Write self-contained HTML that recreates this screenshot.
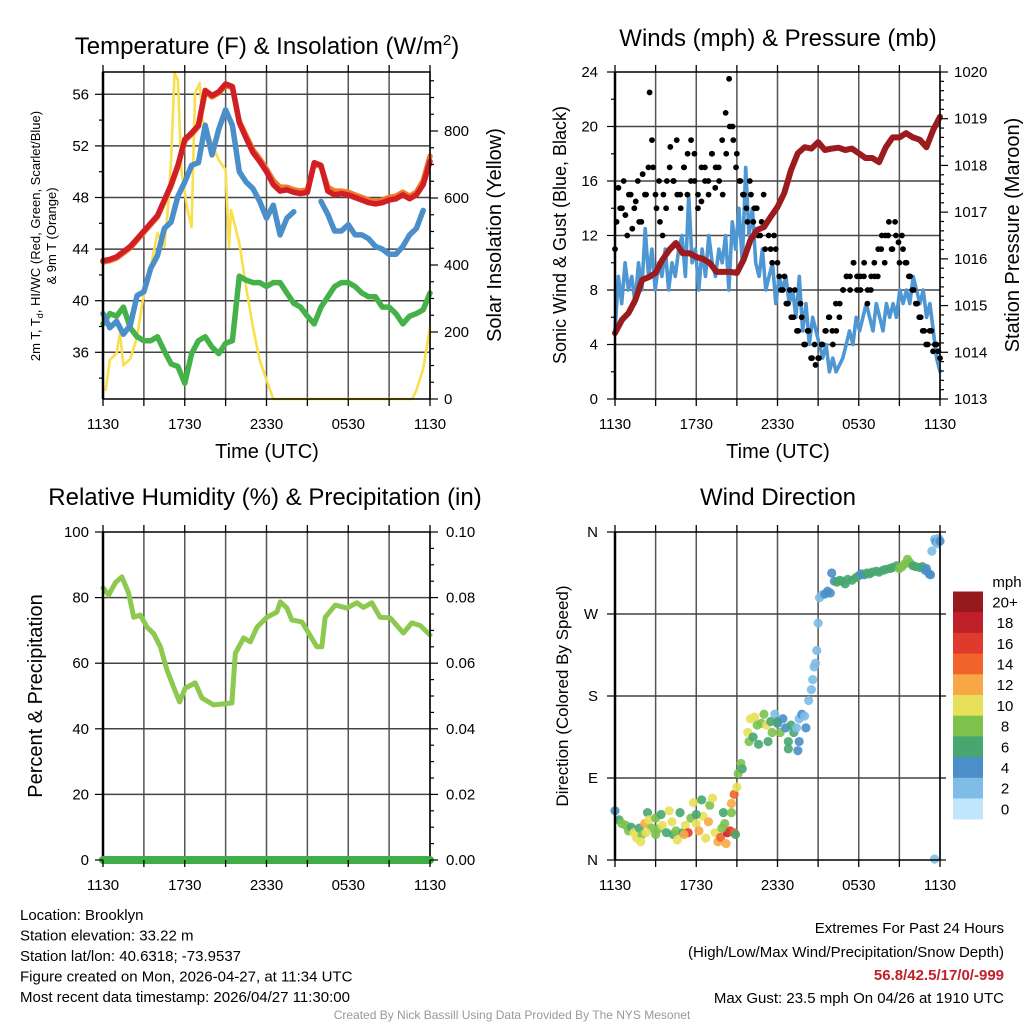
<!DOCTYPE html>
<html><head><meta charset="utf-8"><style>
html,body{margin:0;padding:0;background:#fff;}
svg{display:block;font-family:"Liberation Sans",Arial,sans-serif;}
</style></head><body>
<svg id="c" width="1024" height="1024" viewBox="0 0 1024 1024" xmlns="http://www.w3.org/2000/svg"></svg>
<script>
// ---------- DATA ----------
const xTickLabels = ["1130","1730","2330","0530","1130"];
const tempRed = [43.1,43.2,43.4,43.8,44.2,44.8,45.4,46.0,46.6,47.8,49.0,50.5,52.5,53.0,53.6,56.3,55.9,56.2,56.8,56.6,53.8,52.6,51.5,50.8,50.0,49.0,48.5,48.6,48.4,48.3,48.4,50.7,50.5,48.5,48.2,48.3,48.2,48.0,47.8,47.6,47.5,47.6,47.8,47.9,48.2,47.9,48.2,49.0,50.8];
const tempOrange = [43.0,43.1,43.3,43.7,44.1,44.7,45.3,45.9,46.5,47.7,48.9,50.4,52.4,52.9,53.5,56.2,55.8,56.1,56.7,56.5,53.9,52.8,51.7,51.0,50.2,49.3,48.8,48.8,48.6,48.5,48.6,50.6,50.4,48.8,48.5,48.5,48.4,48.2,48.0,47.8,47.7,47.8,48.0,48.1,48.4,48.1,48.4,49.3,51.2];
const windChill = [39.0,37.9,38.4,37.4,38.1,40.4,40.7,42.5,43.5,45.6,46.1,48.1,49.2,50.5,50.7,53.6,51.3,53.3,54.8,53.6,50.0,49.2,48.7,47.7,46.4,47.4,45.1,46.4,46.9,null,null,null,47.7,46.7,45.4,45.4,45.9,45.1,45.1,44.8,44.2,44.0,43.6,43.6,44.2,45.1,45.6,47.0,null];
const dewPoint = [38.2,39.0,38.8,39.5,37.9,37.2,36.9,36.9,37.2,36.1,35.1,34.9,33.6,35.9,36.9,37.2,36.4,35.9,36.7,36.9,41.9,41.6,41.4,41.4,41.1,41.4,41.4,40.6,39.8,39.5,38.8,38.2,39.5,40.3,41.1,41.4,41.4,41.1,40.6,40.3,40.3,39.5,39.5,39.0,38.2,38.8,39.0,39.3,40.6];
const solarT = [0.2,0.5,1,1.25,1.5,2,2.5,3,3.5,4,4.5,4.75,5,5.25,5.5,5.75,6.2,6.5,6.75,7.1,7.3,8,8.5,9,9.25,9.4,10,10.5,11,11.5,12,12.5,22.7,23,23.5,24];
const solarV = [27,116,137,197,100,120,185,316,394,496,454,560,713,973,952,684,564,513,913,943,833,764,713,684,454,564,466,334,215,116,57,0,0,27,90,215];
const windSpeed = [5,9,7,10,8,9,7,10,8,12.5,9,11,8,10,9,11,8,10,9,11,12,9,15,10,11,8,11,9,12,10,9,11,10,12,8,13,11,14,10,17,12,14,10,9,11,8,9,10,7,9,8,9,7,8,6,9,5,7,4,6,5,4,3,4,2,3,2,2.5,3,4,5,4,6,5,6,7,6,5,7,6,5,7,6,7,6,8,7,8,7,9,8,7,8,6,7,5,3,2];
const windGust = [11,15.5,14,13.5,15,12.5,14.5,13,16.5,15,22.5,17,14,13,15,16,18.5,16,15,14,17,18,19,16,15,14.5,17,16,18,15.5,17,19,21,23.5,20,17,16,15,14,16,13,14,12,15,13,11,12,10,8,9,7,6,8,5,6,4,5,3,2.5,3,4,5,6,4,5,7,8,9,8,10,9,8,9,7,8,10,9,11,10,12,11,13,11.5,12,10,9,8,7,6,5,4,5,3.5,4,3];
const windGust2 = [13,14,16,12,15,14,16,13,15,17,19,15,16,12,14,17,16,19,15,17,15,16,18,14,17,16,15,18,17,16,15,18,20,19,18,16,15,13,15,14,12,13,11,12,10,11,9,8,7,8,6,5,7,4,5,3,4,3,4,5,6,5,7,6,8,9,9,10,8,9,10,8,9,9,11,12,12,13,11,12,10,11,10,9,8,7,6,5,4,5,4,3.5];
const pressure = [1014.41,1014.69,1014.84,1015.12,1015.55,1015.61,1015.7,1015.98,1016.19,1016.34,1016.12,1016.12,1016.04,1016.0,1015.91,1015.72,1015.72,1015.72,1015.7,1015.98,1016.4,1016.62,1016.68,1016.9,1017.11,1017.41,1017.9,1018.26,1018.39,1018.36,1018.5,1018.33,1018.36,1018.38,1018.33,1018.36,1018.26,1018.16,1018.16,1018.07,1018.39,1018.6,1018.6,1018.69,1018.6,1018.55,1018.39,1018.76,1019.04];
const rhT = [0,0.42,0.9,1.39,1.88,2.25,2.74,3.23,3.72,4.21,4.69,5.18,5.62,6.04,6.77,7.26,8.12,8.85,9.46,9.71,10.32,10.81,11.3,12.03,12.76,13.01,13.5,13.86,14.6,15.09,15.7,16.06,16.31,17.04,17.9,18.63,19.12,19.73,20.34,21.08,22.05,22.66,23.28,24];
const rhV = [83,80.8,84.5,86.3,81.4,74,74.7,71,69,65,58,52.7,48.2,52.4,54,49.4,47.3,47.6,47.9,63,67.7,66.5,71,74,75.6,78.7,76.8,73.2,72.6,69.2,65,65,74,77.7,76.8,78.4,77,78.4,74,73.8,69.2,72.3,71.5,68.6];
const precipT = [0,24];
const precipV = [0,0];
const dirT = [0,0.3,0.5,0.8,1,1.2,1.4,1.6,1.8,2,2.2,2.4,2.5,2.7,3,3.2,3.4,3.5,3.8,4,4.2,4.3,4.5,4.6,4.8,5,5.2,5.4,5.6,5.8,6,6.2,6.4,6.5,6.7,6.9,7,7.2,7.4,7.6,7.8,8,8.1,8.3,8.5,8.6,8.8,8.6,8.9,8.2,7.9,3.0,1.9,2.3,5.1,6.0,
 8.8,9.0,9.1,9.3,9.4,
 9.8,9.9,10,10.2,10.3,10.5,10.6,10.8,11,11.2,11.3,11.5,11.6,11.8,12,12,12.2,12.4,12.6,12.8,12.8,13,13.2,13.4,13.5,13.6,13.6,13.8,14,14.1,
 14.3,14.5,14.6,14.7,14.8,14.9,15.0,15.1,
 15.3,15.5,15.7,15.9,16.0,16.2,16.4,16.6,16.8,17.0,17.2,17.5,17.8,18.0,18.2,18.4,18.6,18.8,19.0,19.3,19.5,19.8,20.0,20.3,20.5,20.8,21.0,21.2,21.4,21.6,21.8,22.0,22.2,22.5,22.7,22.9,23.0,23.2,23.3,
 23.4,23.6,23.7,23.8,23.9,24,23.6];
const dirV = [54,44,40,38,32,36,30,24,35,28,40,52,44,35,46,34,50,38,30,54,42,28,32,22,52,30,38,30,46,63,40,32,66,48,24,42,60,68,30,20,25,52,40,30,32,52,30,62,28,18,35,28,20,30,28,50,
 72,80,95,106,100,
 140,130,155,135,157,148,127,150,160,148,130,152,140,160,150,152,140,155,145,122,130,148,140,145,120,130,155,160,158,145,
 175,187,198,212,216,230,260,288,
 291,292,295,293,315,306,305,307,306,303,308,307,310,312,314,313,315,314,316,317,316,318,319,320,321,323,320,322,325,330,326,323,322,321,322,318,320,314,313,
 339,352,349,347,353,350,1];
const dirS = [4,7,8,9,8,7,10,10,6,9,12,7,10,9,8,9,7,10,6,10,10,7,9,10,7,6,11,17,9,10,10,13,7,10,10,12,8,11,10,13,14,7,8,18,16,8,14,12,7,13,9,8,10,10,12,7,
 14,11,8,9,7,
 10,8,11,7,10,8,6,9,8,10,6,7,8,3,4,6,8,4,4,6,7,6,6,3,4,4,2,4,2,4,
 2,2,2,2,3,2,2,3,
 3,4,4,4,4,5,6,6,6,6,6,6,6,6,4,5,6,6,6,6,6,6,6,6,6,6,8,8,8,8,8,7,6,6,6,4,4,4,4,
 2,2,4,2,2,4,2];
const speedBins = ["0","2","4","6","8","10","12","14","16","18","20+"];
const binColors = ["#bfe6fa","#7dbde8","#4a8fc9","#48a76f","#7cc24c","#e8e05a","#f7a845","#f0642a","#e03a2c","#c0202a","#961a1d"];

// ---------- HELPERS ----------
const svg = document.getElementById('c');
const NS = 'http://www.w3.org/2000/svg';
function mk(tag, attrs, parent){
  const e = document.createElementNS(NS, tag);
  for (const k in attrs) e.setAttribute(k, attrs[k]);
  (parent||svg).appendChild(e);
  return e;
}
function txt(str, x, y, size, anchor, parent, extra){
  const t = mk('text', Object.assign({x:x, y:y, 'font-size':size, 'text-anchor':anchor||'middle', fill:'#000'}, extra||{}), parent);
  t.textContent = str;
  return t;
}
function scale(d0,d1,r0,r1){ return v => r0 + (v-d0)/(d1-d0)*(r1-r0); }

function xAxis(g, X0, X1, Y0, Y1, sx, labelY, name){
  for (let h=0; h<=24; h+=3){
    const x = sx(h);
    mk('line',{x1:x,y1:Y1,x2:x,y2:Y1+7,stroke:'#000','stroke-width':1.3},g);
    mk('line',{x1:x,y1:Y0,x2:x,y2:Y0-7,stroke:'#000','stroke-width':1.3},g);
  }
  xTickLabels.forEach((l,i)=>{
    const t = txt(l, sx(i*6), labelY, 15, 'middle', g);
    
    
  });
}

function poly(g, xs, ys, sx, sy, attrs){
  let d=''; let pen=false;
  for (let i=0;i<ys.length;i++){
    if (ys[i]===null){ pen=false; continue; }
    d += (pen?'L':'M') + sx(xs[i]).toFixed(1) + ' ' + sy(ys[i]).toFixed(1) + ' ';
    pen=true;
  }
  return mk('path', Object.assign({d:d, fill:'none','stroke-linejoin':'round','stroke-linecap':'round'}, attrs), g);
}
function evenT(n){ const a=[]; for(let i=0;i<n;i++) a.push(i*24/(n-1)); return a; }

// ================= PANEL 1: TEMPERATURE =================
{
  const g = mk('g',{});
  
  
  const X0=103,X1=430,Y0=72,Y1=399;
  const sx = scale(0,24,X0,X1);
  const sy = scale(56,36,94.3,352.3);
  const sS = scale(0,800,399,131);
  for(let h=0;h<=24;h+=3) mk('line',{x1:sx(h),y1:Y0,x2:sx(h),y2:Y1,stroke:'#555','stroke-width':1.5},g);
  for(let v=36;v<=56;v+=4) mk('line',{x1:X0,y1:sy(v),x2:X1,y2:sy(v),stroke:'#444','stroke-width':1.5},g);
  const tt = evenT(tempRed.length);
  const s1 = poly(g, solarT, solarV, sx, sS, {stroke:'#f9df4c','stroke-width':2.6});
   
  const s2 = poly(g, tt, dewPoint, sx, sy, {stroke:'#45b149','stroke-width':5.5});
   
  const s3 = poly(g, tt, windChill, sx, sy, {stroke:'#4a8fc9','stroke-width':5.5});
   
  const s4 = poly(g, tt, tempOrange, sx, sy, {stroke:'#f07a2a','stroke-width':5.5});
   
  const s5 = poly(g, tt, tempRed, sx, sy, {stroke:'#d21f26','stroke-width':5.5});
   
  mk('rect',{x:X0,y:Y0,width:X1-X0,height:Y1-Y0,fill:'none',stroke:'#000','stroke-width':1.5},g);
  mk('line',{x1:X0,y1:Y0,x2:X0,y2:Y1,stroke:'#000','stroke-width':2.5},g);
  for(let v=34;v<=57;v+=2){ const L=(v%4===0)?8:4; mk('line',{x1:X0,y1:sy(v),x2:X0-L,y2:sy(v),stroke:'#000','stroke-width':1.2},g); }
  for(let v=36;v<=56;v+=4){ const t=txt(String(v),89,sy(v)+5,15,'end',g);   }
  for(let v=0;v<=950;v+=50){ const L=(v%200===0)?8:4; mk('line',{x1:X1,y1:sS(v),x2:X1+L,y2:sS(v),stroke:'#000','stroke-width':1.2},g); }
  for(let v=0;v<=800;v+=200){ const t=txt(String(v),444,sS(v)+5,15,'start',g);   }
  xAxis(g,X0,X1,Y0,Y1,sx,429,'temp');
  const ti = txt('',267,54,24,'middle',g);
  ti.innerHTML = 'Temperature (F) &amp; Insolation (W/m<tspan dy="-9" font-size="15">2</tspan><tspan dy="9">)</tspan>';
   
  const xl = txt('Time (UTC)',267,458,20,'middle',g);  
  const yl1 = txt('',40,236,13,'middle',g,{transform:'rotate(-90 40 236)'});
  yl1.innerHTML = '2m T, T<tspan dy="3" font-size="9">d</tspan><tspan dy="-3">, HI/WC (Red, Green, Scarlet/Blue)</tspan>';
   
  const yl2 = txt('& 9m T (Orange)',56,236,13,'middle',g,{transform:'rotate(-90 56 236)'});
   
  const yr = txt('Solar Insolation (Yellow)',501,235,20,'middle',g,{transform:'rotate(-90 501 235)'});
   
}

// ================= PANEL 2: WINDS =================
{
  const g = mk('g',{});
  
  
  const X0=615,X1=940,Y0=72,Y1=399;
  const sx = scale(0,24,X0,X1);
  const sy = scale(0,24,Y1,Y0);
  const sp = scale(1013,1020,Y1,Y0);
  for(let h=0;h<=24;h+=3) mk('line',{x1:sx(h),y1:Y0,x2:sx(h),y2:Y1,stroke:'#555','stroke-width':1.5},g);
  for(let v=4;v<=20;v+=4) mk('line',{x1:X0,y1:sy(v),x2:X1,y2:sy(v),stroke:'#444','stroke-width':1.5},g);
  const w = poly(g, evenT(windSpeed.length), windSpeed, sx, sy, {stroke:'#4e97d2','stroke-width':3.6});
   
  const gt = evenT(windGust.length);
  windGust.forEach((v,i)=>{
    const c = mk('circle',{cx:sx(gt[i]),cy:sy(v),r:2.9,fill:'#000'},g);
    
    
  });
  const gt2 = evenT(windGust2.length);
  windGust2.forEach((v,i)=>{
    const c = mk('circle',{cx:sx(0.12+gt2[i]*23.76/24),cy:sy(v),r:2.9,fill:'#000'},g);
    
    
  });
  const p = poly(g, evenT(pressure.length), pressure, sx, sp, {stroke:'#9b1b1e','stroke-width':6});
   
  mk('rect',{x:X0,y:Y0,width:X1-X0,height:Y1-Y0,fill:'none',stroke:'#000','stroke-width':1.5},g);
  mk('line',{x1:X0,y1:Y0,x2:X0,y2:Y1,stroke:'#000','stroke-width':2.5},g);
  for(let v=0;v<=24;v+=2){ const L=(v%4===0)?8:4; mk('line',{x1:X0,y1:sy(v),x2:X0-L,y2:sy(v),stroke:'#000','stroke-width':1.2},g); }
  for(let v=0;v<=24;v+=4){ const t=txt(String(v),598,sy(v)+5,15,'end',g);   }
  for(let v=1013;v<=1020.01;v+=0.2){ const maj=Math.abs(v-Math.round(v))<0.01; mk('line',{x1:X1,y1:sp(v),x2:X1+(maj?8:4),y2:sp(v),stroke:'#000','stroke-width':1.2},g); }
  for(let v=1013;v<=1020;v++){ const t=txt(String(v),954,sp(v)+5,15,'start',g);   }
  xAxis(g,X0,X1,Y0,Y1,sx,429,'wind');
  const ti = txt('Winds (mph) & Pressure (mb)',778,46,24,'middle',g);  
  const xl = txt('Time (UTC)',778,458,20,'middle',g);  
  const yl = txt('Sonic Wind & Gust (Blue, Black)',566,235,18,'middle',g,{transform:'rotate(-90 566 235)'});  
  const yr = txt('Station Pressure (Maroon)',1019,235,20,'middle',g,{transform:'rotate(-90 1019 235)'});  
}

// ================= PANEL 3: RH =================
{
  const g = mk('g',{});
  
  
  const X0=103,X1=430,Y0=532,Y1=860;
  const sx = scale(0,24,X0,X1);
  const sy = scale(0,100,Y1,Y0);
  const sq = scale(0,0.1,Y1,Y0);
  for(let h=0;h<=24;h+=3) mk('line',{x1:sx(h),y1:Y0,x2:sx(h),y2:Y1,stroke:'#555','stroke-width':1.5},g);
  for(let v=20;v<=80;v+=20) mk('line',{x1:X0,y1:sy(v),x2:X1,y2:sy(v),stroke:'#444','stroke-width':1.5},g);
  const r = poly(g, rhT, rhV, sx, sy, {stroke:'#8dc94e','stroke-width':5});
   
  mk('rect',{x:X0,y:Y0,width:X1-X0,height:Y1-Y0,fill:'none',stroke:'#000','stroke-width':1.5},g);
  mk('line',{x1:X0,y1:Y0,x2:X0,y2:Y1,stroke:'#000','stroke-width':2.5},g);
  const pr = poly(g, precipT, precipV, sx, sq, {stroke:'#3fae49','stroke-width':8});
   
  for(let v=0;v<=100;v+=20){ mk('line',{x1:X0,y1:sy(v),x2:X0-8,y2:sy(v),stroke:'#000','stroke-width':1.2},g); const t=txt(String(v),89,sy(v)+5,15,'end',g);   }
  for(let i=0;i<=20;i++){ const v=i*0.005; mk('line',{x1:X1,y1:sq(v),x2:X1+(i%4===0?8:4),y2:sq(v),stroke:'#000','stroke-width':1.2},g); }
  for(let i=0;i<=5;i++){ const t=txt((i*0.02).toFixed(2),446,sq(i*0.02)+5,15,'start',g);   }
  xAxis(g,X0,X1,Y0,Y1,sx,890,'rh');
  const ti = txt('Relative Humidity (%) & Precipitation (in)',265,505,24,'middle',g);  
  const yl = txt('Percent & Precipitation',42,696,20,'middle',g,{transform:'rotate(-90 42 696)'});  
}

// ================= PANEL 4: WIND DIRECTION =================
{
  const g = mk('g',{});
  
  
  const X0=615,X1=940,Y0=532,Y1=860;
  const sx = scale(0,24,X0,X1);
  const sy = scale(0,360,Y1,Y0);
  for(let h=0;h<=24;h+=3) mk('line',{x1:sx(h),y1:Y0,x2:sx(h),y2:Y1,stroke:'#555','stroke-width':1.5},g);
  for(let v=90;v<=270;v+=90) mk('line',{x1:X0,y1:sy(v),x2:X1,y2:sy(v),stroke:'#444','stroke-width':1.5},g);
  dirV.forEach((v,i)=>{
    const bi = Math.min(10, Math.floor(dirS[i]/2));
    const c = mk('circle',{cx:sx(dirT[i]),cy:sy(v),r:4.6,fill:binColors[bi],'fill-opacity':0.9},g);
    
    
  });
  mk('rect',{x:X0,y:Y0,width:X1-X0,height:Y1-Y0,fill:'none',stroke:'#000','stroke-width':1.5},g);
  mk('line',{x1:X0,y1:Y0,x2:X0,y2:Y1,stroke:'#000','stroke-width':2.5},g);
  ["N","E","S","W","N"].forEach((l,i)=>{
    mk('line',{x1:X0,y1:sy(i*90),x2:X0-8,y2:sy(i*90),stroke:'#000','stroke-width':1.2},g);
    mk('line',{x1:X1,y1:sy(i*90),x2:X1+6,y2:sy(i*90),stroke:'#000','stroke-width':1.2},g);
    const t=txt(l,598,sy(i*90)+5,15,'end',g);  
  });
  xAxis(g,X0,X1,Y0,Y1,sx,890,'dir');
  const ti = txt('Wind Direction',778,505,24,'middle',g);  
  const yl = txt('Direction (Colored By Speed)',568,696,17,'middle',g,{transform:'rotate(-90 568 696)'});  
  const cb = mk('g',{},g);
  
  
  const bh = 20.7, top = 591.5;
  speedBins.forEach((l,i)=>{
    const k = 10-i;
    const y = top + i*bh;
    const r = mk('rect',{x:953,y:y,width:30,height:bh+0.3,fill:binColors[k]},cb);
    
    
    const t = txt(speedBins[k],1005,y+bh/2+5.5,15,'middle',cb);
    
    
  });
  const m = txt('mph',1007,587,15,'middle',cb);  
}

// ================= FOOTER TEXT =================
{
  const g = mk('g',{});
  
  
  const lines = ["Location: Brooklyn","Station elevation: 33.22 m","Station lat/lon: 40.6318; -73.9537","Figure created on Mon, 2026-04-27, at 11:34 UTC","Most recent data timestamp: 2026/04/27 11:30:00"];
  lines.forEach((l,i)=>{ const t=txt(l,20,920+i*20.5,15,'start',g);   });
  const g2 = mk('g',{});
  
  
  const a = txt('Extremes For Past 24 Hours',1004,933,15,'end',g2);  
  const b = txt('(High/Low/Max Wind/Precipitation/Snow Depth)',1004,957,15,'end',g2);  
  const c = txt('56.8/42.5/17/0/-999',1004,980,15,'end',g2,{fill:'#c0202a','font-weight':'bold'});  
  const d = txt('Max Gust: 23.5 mph On 04/26 at 1910 UTC',1004,1003,15,'end',g2);  
  const e = txt('Created By Nick Bassill Using Data Provided By The NYS Mesonet',512,1019,12,'middle',null,{fill:'#999'});  
}
</script>
</body></html>
